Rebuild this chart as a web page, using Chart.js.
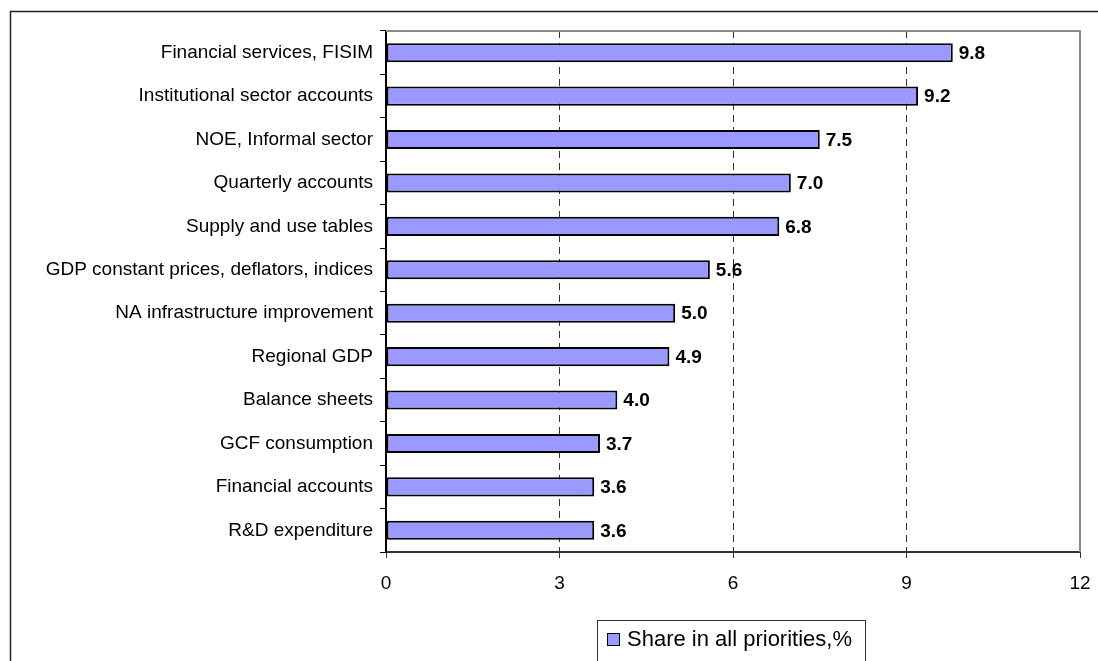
<!DOCTYPE html>
<html>
<head>
<meta charset="utf-8">
<script src="https://cdn.jsdelivr.net/npm/chart.js@4.4.1/dist/chart.umd.min.js"></script>
<style>
html,body{margin:0;padding:0;background:#fff;}
#wrap{position:relative;width:1098px;height:661px;}
canvas{display:block;}
</style>
</head>
<body>
<div id="wrap"><canvas id="c" width="1098" height="661"></canvas></div>
<script>
const categories = [
  "Financial services, FISIM",
  "Institutional sector accounts",
  "NOE, Informal sector",
  "Quarterly accounts",
  "Supply and use tables",
  "GDP constant prices, deflators, indices",
  "NA infrastructure improvement",
  "Regional GDP",
  "Balance sheets",
  "GCF consumption",
  "Financial accounts",
  "R&D expenditure"
];
const shareValues = [9.8, 9.2, 7.5, 7.0, 6.8, 5.6, 5.0, 4.9, 4.0, 3.7, 3.6, 3.6];
const seriesName = "Share in all priorities,%";
const xTicks = [0, 3, 6, 9, 12];

const FONT = "'Liberation Sans', Arial, sans-serif";

const decorPlugin = {
  id: 'decor',
  beforeDraw(chart) {
    const ctx = chart.ctx;
    ctx.save();
    ctx.fillStyle = '#fff';
    ctx.fillRect(0, 0, chart.width, chart.height);
    ctx.strokeStyle = '#222';
    ctx.lineWidth = 1.5;
    ctx.beginPath();
    ctx.moveTo(10.5, chart.height + 2);
    ctx.lineTo(10.5, 11.5);
    ctx.lineTo(chart.width + 2, 11.5);
    ctx.stroke();
    ctx.restore();
  },
  afterDatasetsDraw(chart) {
    const ctx = chart.ctx;
    const a = chart.chartArea;
    ctx.save();
    ctx.strokeStyle = '#8a8a8a';
    ctx.lineWidth = 2;
    ctx.beginPath();
    ctx.moveTo(a.left, a.top);
    ctx.lineTo(a.right, a.top);
    ctx.lineTo(a.right, a.bottom);
    ctx.stroke();
    const meta = chart.getDatasetMeta(0);
    ctx.fillStyle = '#000';
    ctx.font = "bold 19px " + FONT;
    ctx.textBaseline = 'middle';
    ctx.textAlign = 'left';
    meta.data.forEach((el, i) => {
      ctx.fillText(shareValues[i].toFixed(1), el.x + 6, el.y + 1);
    });
    const lx = 597.5, ly = 620.5, lw = 268, lh = 41;
    ctx.fillStyle = '#fff';
    ctx.fillRect(lx, ly, lw, lh);
    ctx.strokeStyle = '#333';
    ctx.lineWidth = 1;
    ctx.strokeRect(lx, ly, lw, lh);
    ctx.fillStyle = '#9999FF';
    ctx.fillRect(607.5, 633.5, 12, 12);
    ctx.strokeStyle = '#000';
    ctx.strokeRect(607.5, 633.5, 12, 12);
    ctx.fillStyle = '#000';
    ctx.font = "22px " + FONT;
    ctx.textBaseline = 'middle';
    ctx.fillText(seriesName, 627, 640);
    ctx.restore();
  }
};

new Chart(document.getElementById('c'), {
  type: 'bar',
  data: {
    labels: categories,
    datasets: [{
      label: seriesName,
      data: shareValues,
      backgroundColor: '#9999FF',
      borderColor: '#000',
      borderWidth: 2,
      borderSkipped: false,
      categoryPercentage: 1.0,
      barPercentage: 0.44
    }]
  },
  options: {
    indexAxis: 'y',
    responsive: false,
    animation: false,
    devicePixelRatio: 1,
    layout: { padding: { left: 0, right: 18, top: 31, bottom: 69 } },
    plugins: { legend: { display: false }, tooltip: { enabled: false } },
    scales: {
      x: {
        min: 0, max: 12,
        afterBuildTicks(s) { s.ticks = xTicks.map(v => ({ value: v })); },
        afterFit(s) { s.height = 40; s.paddingRight = 0; s.paddingLeft = 0; },
        ticks: { color: '#000', font: { family: FONT, size: 19 }, padding: 14 },
        grid: {
          color: ctx => (ctx.tick && (ctx.tick.value === 0 || ctx.tick.value === 12)) ? 'rgba(0,0,0,0)' : '#333',
          lineWidth: 1,
          tickColor: '#333',
          tickBorderDash: [],
          tickLength: 6,
          drawTicks: true
        },
        border: { display: true, color: '#333', width: 2, dash: [7, 5] }
      },
      y: {
        afterFit(s) { s.width = 386; s.paddingTop = 0; s.paddingBottom = 0; },
        ticks: { color: '#000', font: { family: FONT, size: 19 }, padding: 7 },
        grid: {
          drawOnChartArea: false,
          drawTicks: true,
          tickLength: 6,
          color: '#000',
          offset: true
        },
        border: { display: true, color: '#000', width: 2 }
      }
    }
  },
  plugins: [decorPlugin]
});
</script>
</body>
</html>
